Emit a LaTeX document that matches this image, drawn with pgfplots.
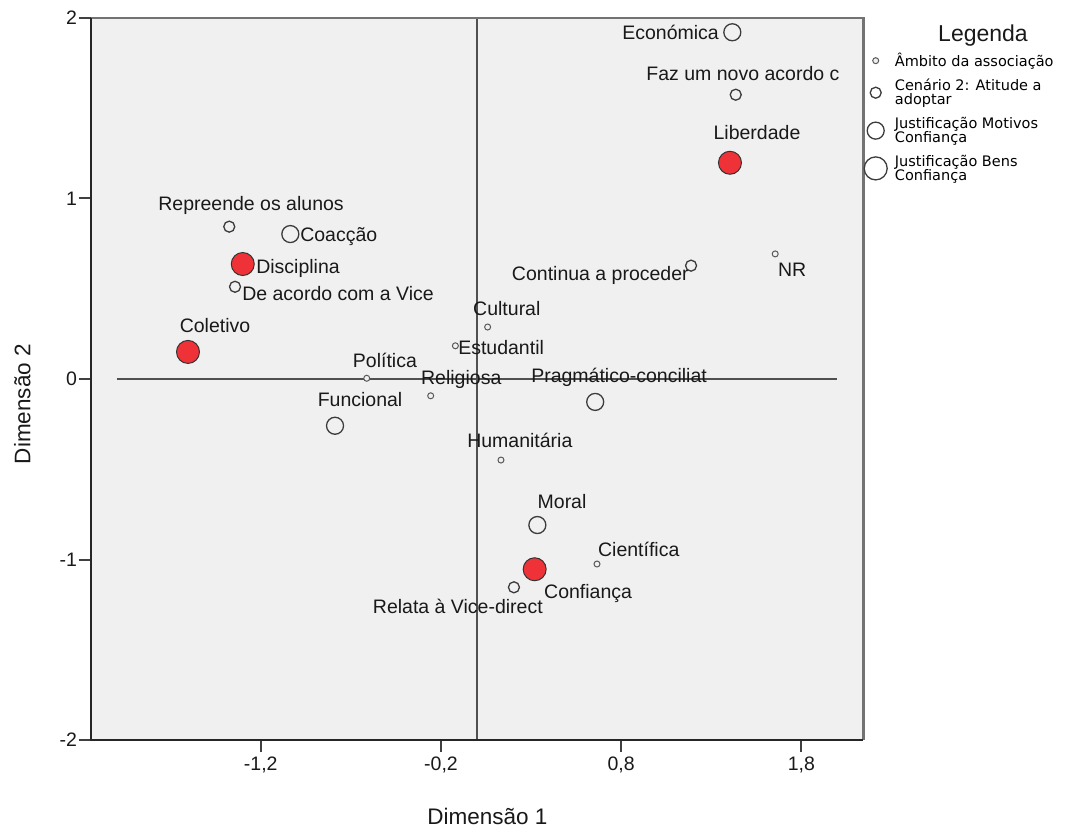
\documentclass[border=0pt]{standalone}
\usepackage{fontspec}
\setmainfont{Liberation Sans}
\newfontfamily\dejavu{DejaVu Sans}
\usepackage{pgfplots}
\pgfplotsset{compat=1.18}
\definecolor{bgc}{RGB}{240,240,240}
\definecolor{refc}{RGB}{80,80,80}
\definecolor{redc}{RGB}{238,50,56}
\definecolor{circc}{RGB}{60,60,60}
\tikzset{lbl/.style={font=\fontsize{19.5}{20}\selectfont, inner sep=0pt, text height=14pt, text depth=0pt, text=black!90}}
\begin{document}
\begin{tikzpicture}
\useasboundingbox (-90.7pt,-88pt) rectangle (974.3pt,740pt);
\begin{axis}[
  width=772.6pt, height=722pt, scale only axis,
  xmin=-2.144, xmax=2.144, ymin=-2, ymax=2,
  xtick={-1.2,-0.2,0.8,1.8}, ytick={-2,-1,0,1,2},
  xtick pos=left, ytick pos=left,
  tick align=outside, major tick length=12pt,
  tick style={draw=black!75, line width=2pt},
  axis line style={draw=none},
  axis background/.style={fill=bgc},
  /pgf/number format/use comma,
  /pgf/number format/fixed,
  /pgf/number format/assume math mode=true,
  tick label style={font=\fontsize{19.5}{20}\selectfont, text=black!90},
  xticklabel style={inner sep=0pt, yshift=-5pt},
  yticklabel style={inner sep=0pt, xshift=-1.5pt},
  xlabel={Dimensão 1}, ylabel={Dimensão 2},
  xlabel style={at={(axis description cs:0.5136,-0.1066)}, anchor=center, font=\fontsize{22.5}{23}\selectfont, inner sep=0pt, text height=16pt, text depth=0pt, text=black!90},
  ylabel style={at={(axis description cs:-0.0883,0.4654)}, anchor=center, font=\fontsize{22.5}{23}\selectfont, inner sep=0pt, text height=16pt, text depth=0pt, text=black!90},
  clip=false,
  legend style={at={(axis description cs:1.0,0.9543)}, anchor=north west, draw=none, fill=none, inner sep=0pt,
    font=\dejavu\fontsize{14.5}{14}\selectfont, row sep=7pt, column sep=5pt,
    cells={anchor=west, align=left}},
  legend image code/.code={\path (0pt,0pt) (24pt,0pt); \draw[#1] plot coordinates {(12pt,0pt)};},
]
% reference lines
\addplot[draw=refc, line width=2pt, forget plot] coordinates {(-2,0) (2,0)};
\addplot[draw=refc, line width=2pt, forget plot] coordinates {(0,-2) (0,2)};
% Ambito da associacao
\addplot[only marks, mark=*, mark size=3pt, mark options={draw=black!65, fill=bgc, line width=1pt}, forget plot] coordinates {
 (1.655,0.693) (0.059,0.288) (-0.120,0.184) (-0.612,0.004) (-0.257,-0.093) (0.133,-0.449) (0.666,-1.025)};
% Cenario 2
\addplot[only marks, mark=*, mark size=5.5pt, mark options={draw=circc, fill=bgc, line width=1.3pt}, forget plot] coordinates {
 (-1.375,0.844) (1.436,1.575) (1.188,0.628) (-1.343,0.511) (0.205,-1.154)};
% Justificacao Motivos
\addplot[only marks, mark=*, mark size=8.5pt, mark options={draw=circc, fill=bgc, line width=1.3pt}, forget plot] coordinates {
 (1.417,1.921) (-1.036,0.803) (-0.788,-0.259) (0.656,-0.127) (0.335,-0.809)};
% Justificacao Bens
\addplot[only marks, mark=*, mark size=11.5pt, mark options={draw=black!80, fill=redc, line width=1pt}, forget plot] coordinates {
 (1.404,1.198) (-1.300,0.637) (-1.604,0.150) (0.320,-1.054)};
% legend
\addlegendimage{only marks, mark=*, mark size=3pt, mark options={draw=black!65, fill=bgc, line width=1pt}}
\addlegendentry{Âmbito da associação}
\addlegendimage{only marks, mark=*, mark size=5.5pt, mark options={draw=circc, fill=white, line width=1.3pt}}
\addlegendentry{Cenário 2: Atitude a\\adoptar}
\addlegendimage{only marks, mark=*, mark size=8.5pt, mark options={draw=circc, fill=white, line width=1.3pt}}
\addlegendentry{Justificação Motivos\\Confiança}
\addlegendimage{only marks, mark=*, mark size=11.5pt, mark options={draw=circc, fill=white, line width=1.3pt}}
\addlegendentry{Justificação Bens\\Confiança}
% frame
\draw[black!55, line width=2.5pt] (rel axis cs:0,1) -- (rel axis cs:1,1) -- (rel axis cs:1,0);
\draw[black!85, line width=2pt] (rel axis cs:0,1) -- (rel axis cs:0,0) -- (rel axis cs:1,0);
% point labels
\node[lbl, anchor=east] at (axis cs:1.343,1.922) {Económica};
\node[lbl] at (axis cs:1.476,1.695) {Faz um novo acordo c};
\node[lbl] at (axis cs:1.554,1.363) {Liberdade};
\node[lbl, anchor=east] at (axis cs:1.176,0.582) {Continua a proceder};
\node[lbl, anchor=west] at (axis cs:1.670,0.604) {NR};
\node[lbl] at (axis cs:-1.254,0.970) {Repreende os alunos};
\node[lbl, anchor=west] at (axis cs:-0.982,0.803) {Coacção};
\node[lbl, anchor=west] at (axis cs:-1.226,0.626) {Disciplina};
\node[lbl, anchor=west] at (axis cs:-1.304,0.476) {De acordo com a Vice};
\node[lbl] at (axis cs:-1.454,0.299) {Coletivo};
\node[lbl, anchor=west] at (axis cs:-0.022,0.393) {Cultural};
\node[lbl, anchor=west] at (axis cs:-0.105,0.177) {Estudantil};
\node[lbl] at (axis cs:-0.511,0.105) {Política};
\node[lbl, anchor=west] at (axis cs:-0.311,0.011) {Religiosa};
\node[lbl, anchor=west] at (axis cs:0.300,0.017) {Pragmático-conciliat};
\node[lbl] at (axis cs:-0.649,-0.116) {Funcional};
\node[lbl, anchor=west] at (axis cs:-0.055,-0.343) {Humanitária};
\node[lbl] at (axis cs:0.472,-0.676) {Moral};
\node[lbl, anchor=west] at (axis cs:0.671,-0.942) {Científica};
\node[lbl, anchor=west] at (axis cs:0.372,-1.180) {Confiança};
\node[lbl, anchor=east] at (axis cs:0.366,-1.263) {Relata à Vice-direct};
\end{axis}
\node[font=\fontsize{23}{24}\selectfont, inner sep=0pt, text height=16.5pt, text depth=0pt, text=black!90] at (892.3pt,707pt) {Legenda};
\end{tikzpicture}
\end{document}
